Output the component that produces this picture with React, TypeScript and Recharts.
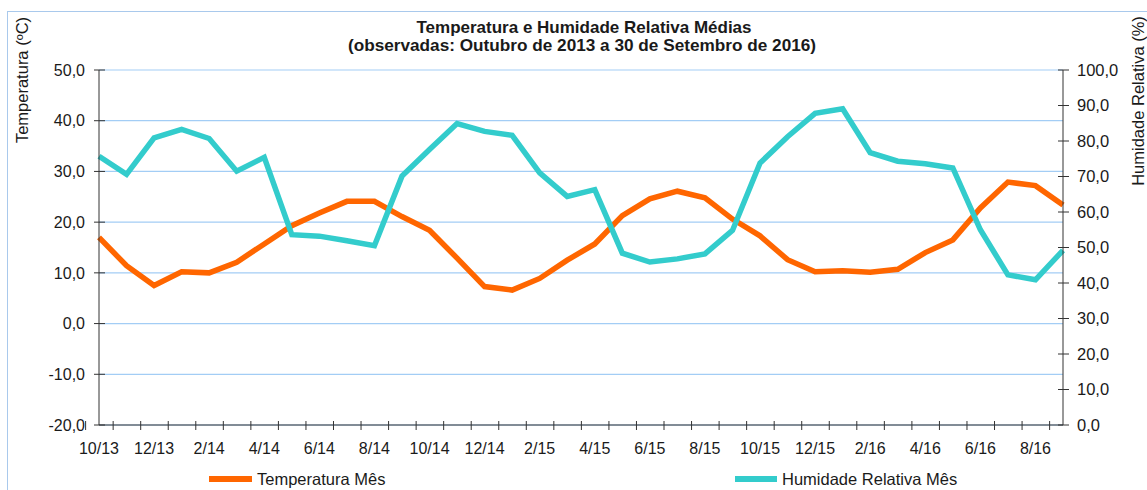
import { CartesianGrid, Line, LineChart, XAxis, YAxis } from "recharts";

const FONT = "'Liberation Sans', Arial, sans-serif";
const TEXT = "#1a1a1a";
const AXIS = "#333333";
const GRID = "#a3cdf5";
const FRAME = "#a9c9ec";
const ORANGE = "#ff6600";
const CYAN = "#33cccc";

const W = 1147;
const H = 490;
const PLOT_LEFT = 99;
const PLOT_RIGHT = 1063;

const months = [
  "10/13", "11/13", "12/13", "1/14", "2/14", "3/14", "4/14", "5/14", "6/14",
  "7/14", "8/14", "9/14", "10/14", "11/14", "12/14", "1/15", "2/15", "3/15",
  "4/15", "5/15", "6/15", "7/15", "8/15", "9/15", "10/15", "11/15", "12/15",
  "1/16", "2/16", "3/16", "4/16", "5/16", "6/16", "7/16", "8/16", "9/16",
];

const temperature = [
  17.0, 11.4, 7.5, 10.2, 10.0, 12.1, 15.7, 19.3, 21.8, 24.1, 24.1, 21.1,
  18.4, 12.9, 7.3, 6.6, 8.9, 12.5, 15.7, 21.3, 24.6, 26.1, 24.8, 20.6,
  17.3, 12.6, 10.2, 10.4, 10.1, 10.7, 14.0, 16.5, 22.8, 27.9, 27.2, 23.4,
];

const humidity = [
  75.7, 70.6, 80.9, 83.3, 80.7, 71.5, 75.4, 53.6, 53.2, 51.9, 50.5, 70.1,
  77.6, 84.9, 82.7, 81.6, 71.0, 64.4, 66.3, 48.4, 45.9, 46.8, 48.2, 54.8,
  73.8, 81.2, 87.8, 89.1, 76.7, 74.3, 73.6, 72.4, 55.0, 42.3, 40.9, 49.2,
];

const tempTicks = [-20, -10, 0, 10, 20, 30, 40, 50];
const humTicks = [0, 10, 20, 30, 40, 50, 60, 70, 80, 90, 100];

const data = months.map((m, i) => ({ month: m, temp: temperature[i], hum: humidity[i] }));

const BAND = (PLOT_RIGHT - PLOT_LEFT) / months.length;
const fmt = (v: number) => v.toFixed(1).replace(".", ",");

function MonthTick({ x, y, index, payload }: any) {
  const left = x - BAND / 2;
  return (
    <g>
      <line x1={left} x2={left} y1={y - 4} y2={y + 5} stroke={AXIS} />
      {index % 2 === 0 && (
        <text x={x} y={y + 29} textAnchor="middle" fontSize={16} fontFamily={FONT} fill={TEXT}>
          {payload.value}
        </text>
      )}
    </g>
  );
}

function LeftTick({ x, y, payload }: any) {
  return (
    <g>
      <line x1={x - 5} x2={x + 6} y1={y} y2={y} stroke={AXIS} />
      <text x={x - 14} y={y} dy="0.36em" textAnchor="end" fontSize={16} fontFamily={FONT} fill={TEXT}>
        {fmt(payload.value)}
      </text>
    </g>
  );
}

function RightTick({ x, y, payload }: any) {
  return (
    <g>
      <line x1={x - 5} x2={x + 6} y1={y} y2={y} stroke={AXIS} />
      <text x={x + 14} y={y} dy="0.36em" textAnchor="start" fontSize={16.5} fontFamily={FONT} fill={TEXT}>
        {fmt(payload.value)}
      </text>
    </g>
  );
}

export default function App() {
  return (
    <div style={{ position: "absolute", left: 0, top: 0, width: W, height: H, overflow: "hidden", background: "#fff" }}>
      <LineChart width={W} height={H} data={data} margin={{ top: 70, right: 24, bottom: 35, left: 39 }}>
        <CartesianGrid vertical={false} stroke={GRID} strokeWidth={1.2} />
        <XAxis
          dataKey="month"
          height={30}
          interval={0}
          tickSize={0}
          tickMargin={0}
          tickLine={false}
          stroke={AXIS}
          tick={(p: any) => <MonthTick {...p} />}
        />
        <YAxis
          width={60}
          domain={[-20, 50]}
          ticks={tempTicks}
          interval={0}
          tickSize={0}
          tickMargin={0}
          tickLine={false}
          stroke={AXIS}
          tick={(p: any) => <LeftTick {...p} />}
        />
        <YAxis
          yAxisId="right"
          orientation="right"
          width={60}
          domain={[0, 100]}
          ticks={humTicks}
          interval={0}
          tickSize={0}
          tickMargin={0}
          tickLine={false}
          stroke={AXIS}
          tick={(p: any) => <RightTick {...p} />}
        />
        <Line
          type="linear"
          dataKey="temp"
          name="Temperatura Mês"
          stroke={ORANGE}
          strokeWidth={5.5}
          dot={false}
          activeDot={false}
          isAnimationActive={false}
        />
        <Line
          type="linear"
          dataKey="hum"
          yAxisId="right"
          name="Humidade Relativa Mês"
          stroke={CYAN}
          strokeWidth={5.5}
          dot={false}
          activeDot={false}
          isAnimationActive={false}
        />
      </LineChart>
      <svg
        width={W}
        height={H}
        style={{ position: "absolute", left: 0, top: 0, pointerEvents: "none" }}
        fontFamily={FONT}
        fill={TEXT}
      >
        <rect x={7.5} y={11.5} width={W + 20} height={H + 20} fill="none" stroke={FRAME} />
        <text x={584} y={33} textAnchor="middle" fontSize={17} fontWeight="bold">
          Temperatura e Humidade Relativa Médias
        </text>
        <text x={582} y={51} textAnchor="middle" fontSize={17.2} fontWeight="bold">
          (observadas: Outubro de 2013 a 30 de Setembro de 2016)
        </text>
        <text transform="translate(27.5,80) rotate(-90)" textAnchor="middle" fontSize={16.5}>
          Temperatura (ºC)
        </text>
        <text transform="translate(1144,101) rotate(-90)" textAnchor="middle" fontSize={16.5}>
          Humidade Relativa (%)
        </text>
        <line x1={209} x2={252} y1={479} y2={479} stroke={ORANGE} strokeWidth={6} />
        <text x={257} y={485} fontSize={16.5}>Temperatura Mês</text>
        <line x1={735} x2={777} y1={479} y2={479} stroke={CYAN} strokeWidth={6} />
        <text x={782} y={485} fontSize={16.5}>Humidade Relativa Mês</text>
      </svg>
    </div>
  );
}
